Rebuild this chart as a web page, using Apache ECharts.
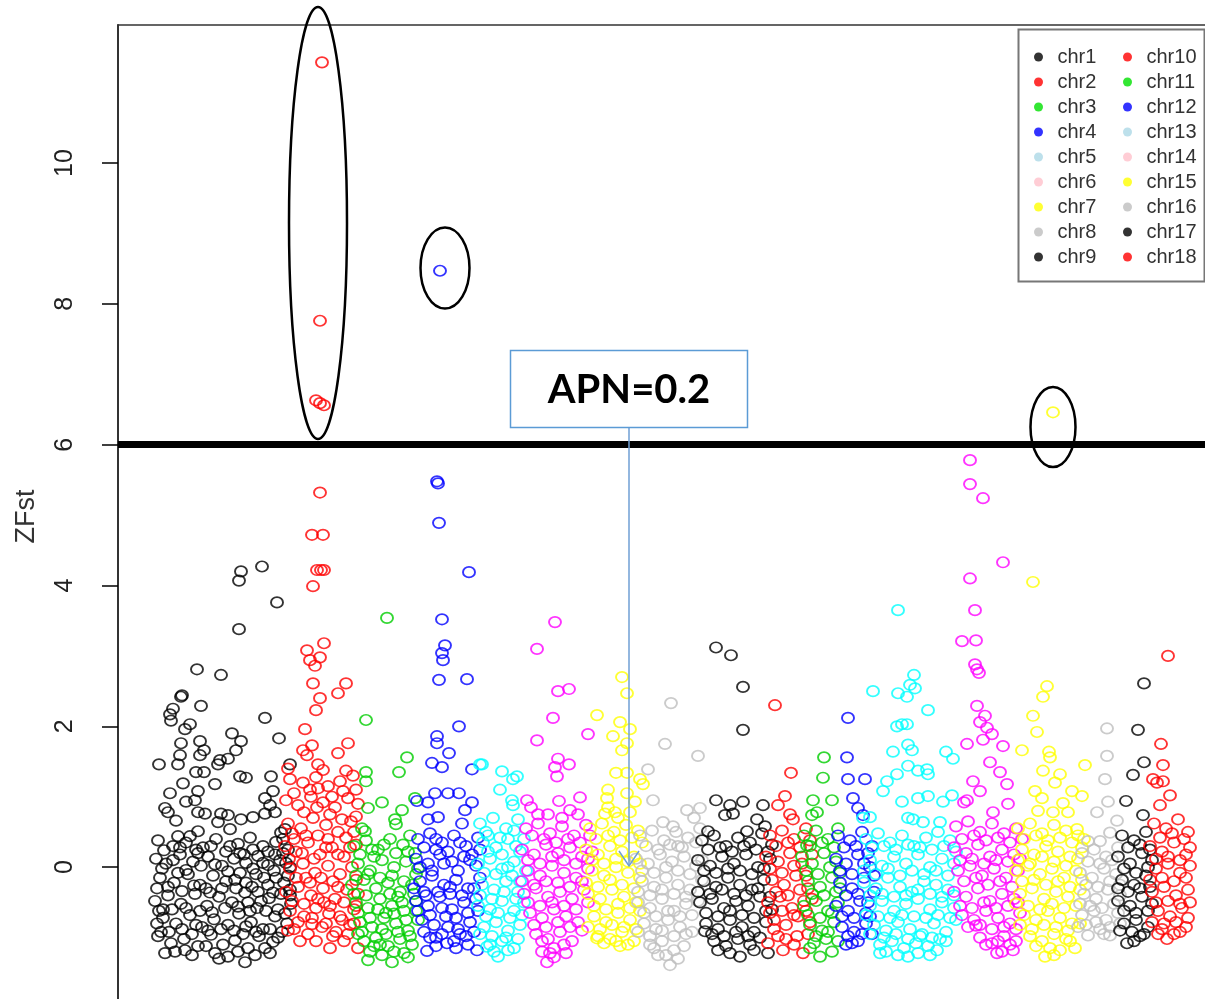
<!DOCTYPE html>
<html>
<head>
<meta charset="utf-8">
<title>ZFst</title>
<script src="https://cdn.jsdelivr.net/npm/echarts@6/dist/echarts.min.js"></script>
<style>
  html, body { margin: 0; padding: 0; background: #fff; }
  #chart { width: 1205px; height: 999px; }
</style>
</head>
<body>
<div id="chart"></div>
<script>
const categories = ['chr1', 'chr2', 'chr3', 'chr4', 'chr5', 'chr6', 'chr7', 'chr8', 'chr9',
  'chr10', 'chr11', 'chr12', 'chr13', 'chr14', 'chr15', 'chr16', 'chr17', 'chr18'];
const plotColors = ['#000000', '#ff0000', '#00cd00', '#0000ff', '#00ffff', '#ff00ff', '#ffff00', '#bebebe', '#000000',
  '#ff0000', '#00cd00', '#0000ff', '#00ffff', '#ff00ff', '#ffff00', '#bebebe', '#000000', '#ff0000'];
const legendColors = ['#000000', '#ff0000', '#00e000', '#0000ff', '#add8e6', '#ffc0cb', '#ffff00', '#bebebe', '#000000',
  '#ff0000', '#00e000', '#0000ff', '#add8e6', '#ffc0cb', '#ffff00', '#bebebe', '#000000', '#ff0000'];
const yTicks = [-2, 0, 2, 4, 6, 8, 10];
const yLabels = [0, 2, 4, 6, 8, 10];
const threshold = 6;

// [SNP index, ZFst] per chromosome
const chr1 = [[144,4.27],[123,4.20],[121,4.07],[159,3.76],[121,3.38],[79,2.81],[103,2.73],[64,2.44],[63,2.42],[83,2.29],
  [52,2.17],[55,2.25],[53,2.08],[72,2.03],[67,1.96],[147,2.12],[114,1.90],[123,1.79],[161,1.83],[63,1.76],[82,1.79],
  [86,1.66],[41,1.46],[62,1.59],[60,1.46],[82,1.59],[102,1.52],[100,1.46],[110,1.54],[118,1.66],[172,1.46],[122,1.29],
  [128,1.27],[153,1.29],[78,1.35],[86,1.35],[65,1.19],[52,1.05],[80,1.08],[97,1.18],[77,0.95],[155,1.08],[147,0.98],
  [152,0.88],[47,0.84],[50,0.78],[58,0.66],[68,0.93],[87,0.76],[80,0.78],[103,0.76],[110,0.74],[123,0.68],[135,0.71],
  [147,0.76],[157,0.78],[167,0.54],[163,0.49],[100,0.64],[112,0.54],[80,0.51],[72,0.44],[60,0.44],
  [40,0.38],[55,0.30],[68,0.35],[85,0.28],[98,0.40],[120,0.33],[132,0.42],[145,0.30],[158,0.36],[170,0.25],
  [38,0.12],[48,0.05],[62,0.18],[75,0.08],[90,0.15],[104,0.02],[116,0.12],[128,0.06],[140,0.16],[150,0.03],[162,0.10],[172,0.00],
  [42,-0.15],[56,-0.22],[70,-0.10],[82,-0.25],[95,-0.12],[108,-0.20],[122,-0.08],[134,-0.28],[146,-0.15],[156,-0.05],[166,-0.22],
  [37,-0.48],[50,-0.40],[63,-0.52],[77,-0.38],[89,-0.55],[101,-0.42],[114,-0.50],[127,-0.36],[139,-0.58],[151,-0.44],[163,-0.38],[173,-0.52],
  [45,-0.72],[58,-0.80],[72,-0.68],[84,-0.85],[96,-0.74],[110,-0.82],[121,-0.66],[133,-0.78],[145,-0.88],[157,-0.70],[169,-0.80],
  [40,-0.98],[53,-1.08],[66,-1.02],[80,-1.12],[93,-0.96],[105,-1.10],[117,-1.04],[130,-1.15],[141,-0.98],[155,-1.06],
  [47,-1.22],[67,-1.18],[97,-1.22],[110,-1.27],[127,-1.35],[147,-1.15],[43,-0.92],[160,-1.00],
  [150,-0.25],[160,-0.60],[140,-0.35],[125,-0.95],[118,-0.30],[103,-0.88],[88,-0.30],[74,-0.95],[60,-0.08],[45,-0.60],
  [170,-0.12],[135,0.25],[112,0.30],[78,0.25],
  [46,0.24],[62,0.28],[80,0.20],[93,0.30],[108,0.22],[126,0.18],[150,0.22],[165,0.40],
  [44,-0.02],[55,0.10],[68,-0.04],[83,0.02],[97,0.04],[110,-0.06],[122,0.20],[135,-0.02],[145,0.06],[157,0.18],[168,0.06],
  [39,-0.30],[50,-0.28],[64,-0.34],[76,-0.26],[92,-0.36],[104,-0.30],[128,-0.22],[143,-0.48],[155,-0.36],[172,-0.32],
  [41,-0.62],[54,-0.60],[68,-0.58],[82,-0.62],[94,-0.64],[107,-0.58],[120,-0.56],[132,-0.62],[148,-0.62],[167,-0.66],
  [39,-0.80],[51,-0.92],[64,-0.88],[78,-0.82],[90,-0.90],[116,-0.90],[128,-0.84],[138,-0.92],[152,-0.88],[164,-0.92],
  [57,-1.20],[74,-1.25],[88,-1.12],[101,-1.30],[120,-1.20],[137,-1.25],[152,-1.22],
  [165,0.20],[172,-0.40],[158,-0.15],[138,-0.10],[130,-0.50],[117,-0.18]];
const chr2 = [[204,11.43],[202,7.76],[198,6.63],[202,6.59],[206,6.56],[202,5.32],[194,4.72],[205,4.72],[199,4.22],[203,4.22],
  [206,4.22],[195,3.99],[206,3.18],[189,3.08],[202,2.98],[192,2.94],[197,2.86],[195,2.61],[228,2.61],[220,2.47],[202,2.40],
  [198,2.23],[187,1.96],[194,1.73],[230,1.76],[220,1.62],[185,1.66],[189,1.59],[200,1.46],[228,1.37],
  [172,1.25],[185,1.20],[198,1.28],[210,1.15],[222,1.22],[235,1.30],
  [168,0.95],[180,0.88],[193,1.00],[205,0.92],[217,0.85],[230,0.98],[240,0.90],
  [170,0.62],[183,0.55],[195,0.70],[208,0.60],[220,0.50],[233,0.65],
  [167,0.30],[178,0.22],[190,0.35],[202,0.18],[214,0.28],[226,0.15],[238,0.32],
  [172,-0.02],[185,0.05],[197,-0.08],[210,0.02],[222,-0.10],[234,0.00],
  [168,-0.35],[180,-0.28],[193,-0.40],[205,-0.30],[217,-0.45],[229,-0.32],[240,-0.38],
  [172,-0.62],[186,-0.70],[198,-0.58],[211,-0.66],[224,-0.75],[236,-0.60],
  [176,-0.88],[190,-0.95],[204,-0.85],[218,-0.92],[232,-0.82],
  [194,-0.81],[212,-1.15],[240,-1.15],[182,-1.05],[226,-1.05],
  [200,0.45],[188,-0.15],[215,-0.20],[228,0.42],[176,0.40],[206,-0.50],[192,1.10],[225,1.08],[170,1.40],[205,1.38],
  [176,1.05],[200,1.12],[214,1.00],[238,1.10],[186,0.78],[199,0.85],[212,0.75],[224,0.68],[238,0.72],
  [174,0.48],[188,0.45],[210,0.40],[236,0.50],[171,0.12],[184,0.20],[196,0.12],[208,0.28],[220,0.18],[232,0.28],
  [178,-0.15],[192,-0.22],[203,-0.15],[220,-0.28],[238,-0.18],[174,-0.48],[186,-0.52],[200,-0.45],[212,-0.55],[226,-0.50],[238,-0.55],
  [180,-0.78],[194,-0.72],[208,-0.80],[222,-0.70],[236,-0.80],[170,-0.90],[198,-1.05],[215,-0.98],[230,-0.95]];
const chr3 = [[269,3.54],[248,2.09],[289,1.56],[281,1.35],[248,1.35],[248,1.22],[264,0.92],[250,0.84],[297,0.98],[284,0.81],
  [277,0.68],[278,0.61],[247,0.51],
  [236,0.30],[248,0.38],[260,0.25],[272,0.40],[285,0.32],[297,0.20],
  [240,0.05],[252,-0.05],[264,0.10],[276,0.00],[288,0.08],[300,-0.02],
  [234,-0.25],[246,-0.18],[258,-0.30],[270,-0.22],[282,-0.35],[294,-0.25],
  [238,-0.50],[250,-0.58],[262,-0.45],[274,-0.55],[286,-0.62],[298,-0.48],
  [242,-0.78],[254,-0.85],[266,-0.72],[278,-0.80],[290,-0.90],[300,-0.75],
  [246,-1.05],[258,-1.00],[270,-1.12],[282,-1.02],[294,-1.10],
  [252,-1.20],[264,-1.25],[274,-1.35],[240,-0.95],[286,-1.22],[256,0.15],[280,-0.42],[268,-0.65],[292,0.45],[244,0.55],
  [242,0.18],[254,0.25],[266,0.32],[278,0.20],[290,0.22],[238,-0.12],[250,-0.10],[262,-0.15],[274,-0.12],[286,-0.20],[298,-0.10],
  [236,-0.38],[248,-0.40],[260,-0.60],[272,-0.38],[284,-0.50],[296,-0.38],[240,-0.65],[252,-0.72],[264,-0.88],[276,-0.66],[288,-0.75],[298,-0.62],
  [244,-0.92],[256,-1.12],[268,-0.95],[280,-0.92],[292,-0.98],[250,-1.32],[262,-1.10],[276,-1.20],[290,-1.28]];
const chr4 = [[322,8.47],[319,5.48],[320,5.45],[321,4.89],[351,4.19],[324,3.52],[327,3.15],[324,3.04],[325,2.94],[321,2.66],
  [349,2.67],[341,2.00],[319,1.86],[319,1.76],[331,1.62],[314,1.48],[324,1.42],[354,1.39],[317,1.05],[330,1.05],[341,1.05],
  [299,0.94],[310,0.92],[354,0.92],[347,0.81],[310,0.68],[320,0.71],
  [300,0.40],[312,0.48],[324,0.35],[336,0.45],[348,0.30],[360,0.42],
  [298,0.12],[310,0.05],[322,0.18],[334,0.08],[346,0.15],[358,0.02],
  [302,-0.20],[314,-0.12],[326,-0.25],[338,-0.18],[350,-0.30],[362,-0.15],
  [298,-0.48],[310,-0.55],[322,-0.42],[334,-0.60],[346,-0.50],[358,-0.45],
  [304,-0.75],[316,-0.82],[328,-0.70],[340,-0.88],[352,-0.78],
  [312,-1.00],[324,-0.95],[336,-1.05],[348,-0.98],[329,-1.08],[309,-1.19],[359,-1.18],[344,0.62],[318,0.25],[332,-0.38],[306,-0.35],
  [306,0.28],[318,0.40],[330,0.22],[342,0.35],[354,0.18],[302,0.00],[314,-0.05],[326,0.05],[340,-0.05],[352,0.10],[362,0.25],
  [296,-0.30],[308,-0.40],[320,-0.35],[332,-0.28],[344,-0.40],[356,-0.30],[300,-0.62],[312,-0.68],[324,-0.58],[338,-0.72],[350,-0.65],[360,-0.62],
  [306,-0.92],[318,-1.00],[330,-0.85],[342,-0.95],[356,-0.92],[318,-1.12],[338,-1.15],[350,-1.10]];
const chr5 = [[364,1.46],[384,1.36],[395,1.25],[399,1.29],[382,1.10],[394,0.95],[395,0.88],[362,1.46],
  [362,0.62],[375,0.70],[388,0.55],[400,0.68],
  [365,0.35],[378,0.28],[390,0.40],[402,0.22],
  [360,0.05],[372,0.12],[384,-0.02],[396,0.08],[408,-0.05],
  [364,-0.25],[376,-0.32],[388,-0.20],[400,-0.35],
  [360,-0.55],[372,-0.60],[384,-0.48],[396,-0.62],[406,-0.50],
  [366,-0.85],[378,-0.78],[390,-0.90],[402,-0.82],
  [372,-1.10],[384,-1.05],[380,-1.27],[369,-1.13],[396,-1.15],[370,0.45],[394,-0.12],
  [368,0.50],[382,0.42],[396,0.52],[406,0.40],[370,0.22],[384,0.18],[398,0.30],[366,-0.08],[378,-0.10],[390,0.00],[402,-0.20],
  [362,-0.40],[374,-0.45],[386,-0.35],[398,-0.45],[368,-0.70],[380,-0.65],[392,-0.72],[404,-0.68],[362,-0.95],[374,-0.98],[388,-1.00],[400,-1.02],[376,-1.20],[390,-1.18]];
const chr6 = [[437,3.48],[419,3.10],[440,2.50],[451,2.53],[435,2.12],[419,1.80],[470,1.89],[440,1.54],[451,1.46],[437,1.42],
  [439,1.29],[409,0.95],[441,0.94],[462,0.99],[430,0.75],[452,0.81],
  [408,0.55],[420,0.62],[432,0.48],[444,0.58],[456,0.45],[468,0.60],
  [404,0.25],[416,0.18],[428,0.32],[440,0.20],[452,0.28],[464,0.15],[474,0.22],
  [410,-0.05],[422,-0.12],[434,0.02],[446,-0.08],[458,-0.15],[470,-0.02],
  [406,-0.38],[418,-0.30],[430,-0.42],[442,-0.35],[454,-0.45],[466,-0.32],
  [412,-0.65],[424,-0.72],[436,-0.60],[448,-0.70],[460,-0.78],
  [418,-0.95],[430,-1.02],[442,-0.92],[454,-1.05],
  [424,-1.20],[436,-1.15],[429,-1.35],[448,-1.22],[413,0.85],[460,0.75],
  [414,0.45],[426,0.40],[438,0.35],[450,0.40],[462,0.35],[472,0.45],[410,0.10],[422,0.05],[434,0.15],[446,0.10],[458,0.05],[470,0.12],
  [404,-0.20],[416,-0.25],[428,-0.20],[440,-0.22],[452,-0.28],[464,-0.20],[410,-0.50],[422,-0.55],[434,-0.50],[446,-0.55],[458,-0.60],[470,-0.50],
  [416,-0.82],[428,-0.85],[440,-0.78],[452,-0.85],[464,-0.90],[424,-1.05],[436,-1.28],[446,-1.10],[432,-1.22],[420,0.75],[444,0.70]];
const chr7 = [[504,2.70],[509,2.47],[479,2.16],[502,2.06],[512,1.96],[495,1.86],[509,1.76],[504,1.66],[498,1.34],[509,1.34],
  [522,1.25],[525,1.18],[490,1.10],[489,0.98],[509,1.05],[517,0.93],[487,0.76],[497,0.78],
  [472,0.55],[484,0.62],[496,0.50],[508,0.60],[520,0.52],
  [468,0.25],[480,0.18],[492,0.30],[504,0.22],[516,0.15],
  [474,-0.05],[486,-0.12],[498,0.00],[510,-0.08],[522,-0.15],
  [470,-0.38],[482,-0.45],[494,-0.32],[506,-0.42],[518,-0.50],
  [476,-0.70],[488,-0.78],[500,-0.65],[512,-0.75],
  [480,-0.98],[492,-1.02],[504,-0.92],[516,-1.05],[502,-1.12],[479,-1.01],[490,0.85],
  [478,0.40],[490,0.45],[502,0.38],[514,0.42],[524,0.35],[474,0.10],[486,0.05],[498,0.12],[510,0.08],[522,0.05],
  [468,-0.22],[480,-0.28],[492,-0.18],[504,-0.25],[516,-0.30],[476,-0.55],[488,-0.60],[500,-0.52],[512,-0.58],[522,-0.62],
  [470,-0.85],[482,-0.88],[494,-0.82],[506,-0.85],[518,-0.88],[486,-1.08],[498,-1.05],[510,-1.10],[500,0.70],[512,0.78]];
const chr8 = [[553,2.33],[547,1.75],[530,1.39],[535,0.95],[555,0.58],[580,1.58],[569,0.81],[582,0.84],[545,0.64],
  [522,0.45],[534,0.52],[546,0.38],[558,0.50],[570,0.42],[582,0.55],
  [518,0.12],[530,0.05],[542,0.18],[554,0.08],[566,0.15],[578,0.02],
  [524,-0.20],[536,-0.28],[548,-0.15],[560,-0.25],[572,-0.32],[584,-0.18],
  [520,-0.50],[532,-0.58],[544,-0.45],[556,-0.62],[568,-0.52],[580,-0.48],
  [526,-0.80],[538,-0.88],[550,-0.75],[562,-0.85],[574,-0.92],
  [532,-1.10],[544,-1.05],[556,-1.18],[552,-1.39],[566,-1.12],[540,-1.25],[560,0.30],[576,0.70],
  [528,0.30],[540,0.25],[552,0.32],[564,0.28],[578,0.35],[524,-0.05],[536,-0.08],[548,0.00],[560,-0.05],[572,-0.10],[584,0.10],
  [520,-0.35],[532,-0.40],[544,-0.32],[556,-0.38],[568,-0.42],[580,-0.35],[526,-0.65],[538,-0.70],[550,-0.62],[562,-0.70],[574,-0.68],
  [520,-0.92],[532,-0.98],[544,-0.90],[556,-0.98],[568,-0.95],[548,-1.25],[560,-1.30],[536,-1.15]];
const chr9 = [[598,3.12],[613,3.01],[625,2.56],[625,1.95],[598,0.95],[612,0.88],[625,0.93],[607,0.74],[615,0.76],
  [645,0.88],[639,0.68],[647,0.58],[590,0.51],[629,0.51],
  [584,0.38],[596,0.45],[608,0.30],[620,0.42],[632,0.35],[644,0.48],[654,0.32],
  [580,0.10],[592,0.02],[604,0.15],[616,0.05],[628,0.18],[640,0.00],[652,0.12],
  [586,-0.20],[598,-0.28],[610,-0.15],[622,-0.25],[634,-0.32],[646,-0.18],
  [582,-0.50],[594,-0.45],[606,-0.58],[618,-0.48],[630,-0.55],[642,-0.42],[654,-0.60],
  [588,-0.80],[600,-0.88],[612,-0.75],[624,-0.85],[636,-0.92],[648,-0.78],
  [596,-1.05],[608,-1.12],[620,-1.02],[632,-1.10],[622,-1.27],[650,-1.22],[600,-1.18],[587,-0.91],
  [590,0.25],[602,0.28],[614,0.22],[626,0.30],[638,0.25],[650,0.22],[586,-0.05],[598,-0.08],[610,-0.02],[622,-0.05],[634,-0.10],[646,-0.02],
  [580,-0.35],[592,-0.38],[604,-0.32],[616,-0.38],[628,-0.40],[640,-0.30],[652,-0.42],[588,-0.65],[600,-0.70],[612,-0.62],[624,-0.68],[636,-0.72],[648,-0.62],
  [594,-0.95],[606,-0.98],[618,-0.92],[630,-0.98],[642,-1.00],[612,-1.22],[636,-1.18]];
const chr10 = [[657,2.30],[673,1.34],[667,1.01],[660,0.88],[675,0.68],
  [652,0.45],[664,0.52],[676,0.40],[688,0.55],
  [648,0.15],[660,0.08],[672,0.20],[684,0.05],[694,0.18],
  [654,-0.18],[666,-0.25],[678,-0.12],[690,-0.30],
  [650,-0.50],[662,-0.42],[674,-0.58],[686,-0.48],
  [656,-0.75],[668,-0.82],[680,-0.70],[692,-0.78],
  [660,-0.98],[665,-1.18],[679,-0.98],[650,-1.08],[685,-1.22],[672,0.75],
  [658,0.30],[670,0.35],[682,0.28],[692,0.38],[652,-0.02],[664,-0.08],[676,0.02],[688,-0.12],[658,-0.35],[670,-0.40],[682,-0.32],[694,-0.45],
  [652,-0.65],[664,-0.62],[676,-0.68],[688,-0.62],[668,-1.02],[656,-0.88],[690,-0.95],[676,-1.10]];
const chr11 = [[706,1.56],[705,1.27],[695,0.95],[714,0.95],[694,0.74],[699,0.78],
  [686,0.45],[698,0.52],[710,0.40],[720,0.55],
  [684,0.15],[694,0.05],[706,0.20],[718,0.08],
  [690,-0.20],[702,-0.28],[714,-0.15],[722,-0.30],
  [686,-0.55],[698,-0.48],[710,-0.62],[720,-0.50],
  [692,-0.82],[704,-0.90],[716,-0.78],
  [696,-1.08],[708,-1.02],[702,-1.27],[689,0.31],
  [692,0.30],[704,0.35],[716,0.28],[688,-0.05],[700,-0.10],[712,0.00],[722,-0.08],[694,-0.38],[706,-0.40],[718,-0.35],
  [690,-0.68],[702,-0.72],[714,-0.65],[698,-0.98],[710,-0.92],[720,-1.05],[692,-1.15],[714,-1.20]];
const chr12 = [[730,2.12],[729,1.56],[730,1.25],[747,1.25],[735,0.98],[740,0.84],[745,0.74],
  [720,0.45],[732,0.38],[744,0.50],[754,0.30],
  [718,0.12],[728,0.05],[740,0.18],[752,0.00],
  [722,-0.22],[734,-0.30],[746,-0.15],[756,-0.35],
  [718,-0.55],[730,-0.62],[742,-0.48],[752,-0.70],
  [724,-0.85],[736,-0.92],[748,-0.80],
  [728,-1.10],[740,-1.05],[734,-1.08],
  [726,0.28],[738,0.30],[750,0.20],[722,-0.05],[734,-0.10],[746,0.05],[756,-0.12],[728,-0.40],[740,-0.38],[750,-0.50],
  [724,-0.70],[736,-0.72],[748,-0.65],[730,-0.98],[744,-0.95],[754,-0.95]];
const chr13 = [[780,3.65],[796,2.73],[792,2.59],[797,2.54],[780,2.47],[789,2.42],[755,2.50],[810,2.23],[779,2.00],[784,2.03],
  [789,2.03],[775,1.64],[790,1.74],[794,1.66],[828,1.64],[835,1.54],[769,1.22],[779,1.32],[790,1.44],[800,1.37],[809,1.39],
  [810,1.32],[765,1.08],[784,0.93],[800,0.98],[810,1.01],[825,0.93],[834,1.02],[752,0.71],[795,0.68],[805,0.64],[822,0.64],
  [748,0.40],[760,0.48],[772,0.35],[784,0.45],[796,0.30],[808,0.42],[820,0.50],[832,0.38],
  [752,0.10],[764,0.02],[776,0.15],[788,0.05],[800,0.18],[812,0.00],[824,0.12],[836,0.05],
  [746,-0.22],[758,-0.30],[770,-0.15],[782,-0.28],[794,-0.35],[806,-0.20],[818,-0.25],[830,-0.32],
  [752,-0.55],[764,-0.48],[776,-0.62],[788,-0.52],[800,-0.45],[812,-0.60],[824,-0.50],[836,-0.58],
  [756,-0.82],[768,-0.90],[780,-0.78],[792,-0.88],[804,-0.95],[816,-0.80],[828,-0.92],
  [762,-1.10],[774,-1.05],[786,-1.15],[798,-1.08],[810,-1.12],[822,-1.02],
  [790,-1.27],[762,-1.22],[819,-1.18],[838,-0.75],[745,0.70],[790,0.70],
  [754,0.28],[766,0.30],[778,0.25],[790,0.32],[802,0.28],[814,0.25],[826,0.30],[838,0.22],
  [746,-0.05],[758,-0.10],[770,-0.02],[782,-0.12],[794,-0.05],[806,-0.10],[818,-0.05],[830,-0.12],
  [752,-0.40],[764,-0.38],[776,-0.42],[788,-0.40],[800,-0.32],[812,-0.38],[824,-0.42],[836,-0.40],
  [748,-0.68],[760,-0.70],[772,-0.72],[784,-0.68],[796,-0.70],[808,-0.72],[820,-0.68],[832,-0.72],
  [752,-0.95],[766,-1.00],[778,-0.95],[790,-1.02],[802,-0.98],[814,-1.00],[828,-1.05],
  [768,-1.20],[780,-1.25],[800,-1.22],[812,-1.25]];
const chr14 = [[852,5.78],[852,5.44],[865,5.24],[885,4.33],[852,4.10],[857,3.65],[844,3.21],[858,3.22],[857,2.88],[859,2.81],
  [861,2.76],[859,2.29],[867,2.15],[862,2.06],[869,1.98],[849,1.75],[874,1.89],[885,1.72],[865,1.81],[872,1.49],[855,1.22],
  [882,1.35],[889,1.18],[862,1.08],[849,0.95],[875,0.78],
  [838,0.58],[850,0.65],[862,0.50],[874,0.62],[886,0.48],[898,0.55],
  [836,0.28],[848,0.20],[860,0.32],[872,0.15],[884,0.25],[896,0.18],
  [840,-0.05],[852,0.02],[864,-0.12],[876,-0.02],[888,-0.15],[900,-0.05],
  [836,-0.35],[848,-0.42],[860,-0.30],[872,-0.48],[884,-0.38],[896,-0.45],
  [844,-0.68],[856,-0.75],[868,-0.62],[880,-0.72],[892,-0.80],[902,-0.65],
  [862,-1.00],[874,-1.08],[886,-0.98],[898,-1.05],[879,-1.22],[858,-0.83],[895,-1.18],[890,0.90],[846,0.92],
  [844,0.40],[856,0.45],[868,0.38],[880,0.42],[892,0.35],[904,0.40],[842,0.10],[854,0.12],[866,0.05],[878,0.10],[890,0.08],[902,0.12],
  [846,-0.20],[858,-0.15],[870,-0.25],[882,-0.20],[894,-0.28],[842,-0.55],[854,-0.58],[866,-0.50],[878,-0.58],[890,-0.55],[900,-0.50],
  [850,-0.85],[862,-0.82],[874,-0.88],[886,-0.85],[898,-0.88],[868,-1.10],[880,-1.05],[892,-1.10],[884,-1.20]];
const chr15 = [[935,6.46],[915,4.05],[929,2.57],[925,2.42],[915,2.15],[919,1.92],[904,1.66],[931,1.64],[932,1.56],[967,1.45],
  [925,1.37],[942,1.32],[937,1.20],[917,1.08],[924,0.98],[954,1.08],[964,1.01],[945,0.91],[935,0.78],[959,0.54],
  [900,0.55],[912,0.62],[924,0.48],[936,0.60],[948,0.52],[960,0.45],
  [904,0.25],[916,0.18],[928,0.30],[940,0.22],[952,0.15],[964,0.28],
  [898,-0.05],[910,0.02],[922,-0.10],[934,-0.02],[946,-0.15],[958,-0.05],
  [902,-0.38],[914,-0.30],[926,-0.45],[938,-0.35],[950,-0.42],[962,-0.32],
  [906,-0.68],[918,-0.75],[930,-0.62],[942,-0.72],[954,-0.80],
  [912,-0.98],[924,-1.05],[936,-0.95],[948,-1.02],[927,-1.27],[942,-1.18],[957,-1.15],[920,0.80],[950,0.78],
  [906,0.40],[918,0.45],[930,0.38],[942,0.42],[954,0.35],[966,0.40],[900,0.10],[912,0.05],[924,0.15],[936,0.08],[948,0.02],[960,0.12],
  [904,-0.20],[916,-0.18],[928,-0.25],[940,-0.20],[952,-0.28],[964,-0.18],[898,-0.52],[910,-0.55],[922,-0.60],[934,-0.52],[946,-0.58],[958,-0.55],
  [902,-0.82],[914,-0.88],[926,-0.82],[938,-0.85],[950,-0.90],[962,-0.80],[918,-1.12],[932,-1.15],[952,-1.05],[936,-1.25]];
const chr16 = [[989,1.97],[989,1.58],[987,1.25],[990,0.93],[979,0.78],[999,0.66],[970,0.37],[982,0.37],[992,0.49],
  [964,0.20],[976,0.25],[988,0.15],[1000,0.28],
  [962,-0.08],[974,-0.15],[986,-0.02],[998,-0.10],
  [966,-0.38],[978,-0.45],[990,-0.32],[1002,-0.40],
  [964,-0.68],[976,-0.62],[988,-0.75],[1000,-0.65],
  [970,-0.97],[992,-0.97],[982,-0.88],[960,-0.85],
  [970,0.08],[982,0.05],[994,0.10],[968,-0.25],[980,-0.28],[992,-0.20],[1002,-0.25],[962,-0.52],[972,-0.55],[984,-0.58],[996,-0.52],
  [968,-0.82],[978,-0.78],[992,-0.85],[1002,-0.80],[986,-0.95]];
const chr17 = [[1026,2.61],[1020,1.95],[1026,1.49],[1015,1.31],[1008,0.94],[1025,0.74],
  [1004,0.45],[1016,0.38],[1028,0.50],
  [1000,0.15],[1012,0.05],[1024,0.20],[1034,0.10],
  [1004,-0.18],[1016,-0.25],[1028,-0.12],
  [1000,-0.48],[1012,-0.55],[1024,-0.42],[1034,-0.52],
  [1006,-0.80],[1018,-0.75],[1030,-0.85],
  [1009,-1.08],[1022,-0.98],
  [1010,0.28],[1022,0.32],[1032,0.25],[1006,-0.02],[1018,-0.08],[1030,0.00],[1000,-0.30],[1010,-0.35],[1022,-0.30],[1032,-0.28],
  [1006,-0.62],[1018,-0.65],[1030,-0.62],[1002,-0.90],[1014,-0.92],[1026,-0.95],[1016,-1.05]];
const chr18 = [[1050,3.00],[1043,1.75],[1045,1.45],[1035,1.25],[1039,1.20],[1045,1.22],[1052,1.02],[1042,0.88],
  [1036,0.62],[1048,0.55],[1060,0.68],[1070,0.50],
  [1032,0.30],[1044,0.22],[1056,0.35],[1068,0.18],
  [1038,-0.02],[1050,0.05],[1062,-0.08],[1072,0.02],
  [1034,-0.35],[1046,-0.28],[1058,-0.40],[1070,-0.32],
  [1040,-0.62],[1052,-0.70],[1064,-0.58],
  [1044,-0.88],[1056,-0.95],[1049,-1.02],[1068,-0.85],
  [1042,0.42],[1054,0.48],[1066,0.40],[1038,0.12],[1050,0.15],[1062,0.10],[1072,0.28],[1032,-0.18],[1044,-0.15],[1056,-0.20],[1068,-0.15],
  [1038,-0.50],[1050,-0.48],[1062,-0.52],[1072,-0.50],[1034,-0.78],[1046,-0.80],[1058,-0.78],[1070,-0.72],[1040,-0.95],[1062,-0.92]];
const chrData = [chr1, chr2, chr3, chr4, chr5, chr6, chr7, chr8, chr9,
  chr10, chr11, chr12, chr13, chr14, chr15, chr16, chr17, chr18];

const chart = echarts.init(document.getElementById('chart'));

const series = categories.map(function (name, i) {
  const s = {
    name: name,
    type: 'scatter',
    data: chrData[i],
    symbol: 'circle',
    symbolSize: [12, 10.5],
    itemStyle: { color: 'rgba(0,0,0,0)', borderColor: plotColors[i], borderWidth: 1.8 },
    emphasis: { disabled: true }
  };
  if (i === 0) {
    // threshold line
    s.markLine = {
      silent: true,
      symbol: ['none', 'none'],
      label: { show: false },
      lineStyle: { color: '#000', width: 7, type: 'solid' },
      data: [{ yAxis: threshold }]
    };
  }
  return s;
});

function legendOf(names, offset, left) {
  return {
    orient: 'vertical',
    left: left,
    top: 47,
    padding: 0,
    itemGap: 5,
    itemWidth: 28,
    itemHeight: 9,
    icon: 'circle',
    selectedMode: false,
    textStyle: { fontSize: 20, lineHeight: 20, color: '#333', fontFamily: 'Liberation Sans' },
    data: names.map(function (n, k) {
      const c = legendColors[offset + k];
      return { name: n, itemStyle: { color: c, borderColor: c, borderWidth: 0 } };
    })
  };
}

chart.setOption({
  animation: false,
  backgroundColor: '#fff',
  grid: { left: 118, top: 25, width: 1087, height: 983, outerBoundsMode: 'none', containLabel: false },
  xAxis: {
    type: 'value',
    position: 'top',
    min: 0,
    max: 1087,
    axisLine: { show: true, onZero: false, lineStyle: { color: '#333', width: 1.5 } },
    axisTick: { show: false },
    axisLabel: { show: false },
    splitLine: { show: false }
  },
  yAxis: {
    type: 'value',
    min: -2,
    max: 11.96,
    interval: 2,
    name: 'ZFst',
    nameLocation: 'middle',
    nameRotate: 90,
    nameGap: 78,
    nameTextStyle: { fontSize: 27, color: '#333', fontFamily: 'Liberation Sans' },
    axisLine: { show: true, lineStyle: { color: '#333', width: 2 } },
    axisTick: { show: true, length: 16, customValues: yTicks, lineStyle: { color: '#000', width: 1.5 } },
    axisLabel: {
      rotate: 90,
      margin: 40,
      fontSize: 25,
      color: '#222',
      fontFamily: 'Liberation Sans',
      customValues: yLabels,
      formatter: function (v) { return v % 2 === 0 && v >= 0 ? String(v) : ''; }
    },
    splitLine: { show: false }
  },
  legend: [
    legendOf(categories.slice(0, 9), 0, 1034),
    legendOf(categories.slice(9), 9, 1123)
  ],
  graphic: [
    // legend box
    { type: 'rect', z: 1, shape: { x: 1018.5, y: 29.5, width: 186, height: 252 },
      style: { fill: '#fff', stroke: '#777', lineWidth: 2 } },
    // outlier rings
    { type: 'ellipse', z: 10, shape: { cx: 318, cy: 223, rx: 29, ry: 216 },
      style: { fill: 'none', stroke: '#000', lineWidth: 2.5 } },
    { type: 'ellipse', z: 10, shape: { cx: 445, cy: 268, rx: 24.5, ry: 40.5 },
      style: { fill: 'none', stroke: '#000', lineWidth: 2.5 } },
    { type: 'ellipse', z: 10, shape: { cx: 1053, cy: 427, rx: 22.5, ry: 40 },
      style: { fill: 'none', stroke: '#000', lineWidth: 2.5 } },
    // APN callout
    { type: 'line', z: 10, shape: { x1: 629, y1: 428, x2: 629, y2: 866 },
      style: { stroke: '#6f9fd4', lineWidth: 1.5 } },
    { type: 'polyline', z: 10, shape: { points: [[619, 851], [629, 866], [639, 851]] },
      style: { fill: 'none', stroke: '#6f9fd4', lineWidth: 1.5 } },
    { type: 'rect', z: 10, shape: { x: 510.5, y: 350.5, width: 237, height: 77 },
      style: { fill: '#fff', stroke: '#5b9bd5', lineWidth: 1.5 } },
    { type: 'text', z: 11, x: 629, y: 390,
      style: { text: 'APN=0.2', fontSize: 40, fontWeight: 'bold', fontFamily: 'Lato',
        fill: '#000', align: 'center', verticalAlign: 'middle' } }
  ],
  series: series
});
</script>
</body>
</html>
